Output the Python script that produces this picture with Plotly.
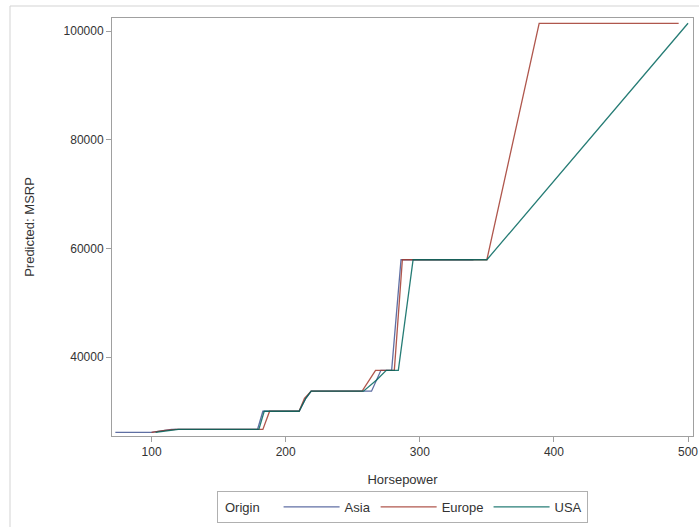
import plotly.graph_objects as go

# Data: predicted MSRP vs Horsepower, by Origin
asia_hp = [73, 100, 115, 179, 183, 210, 215, 219, 264, 271, 279, 286, 340]
asia_msrp = [26110, 26110, 26660, 26660, 30010, 30010, 32400, 33710, 33710, 37550, 37550, 57900, 57900]

europe_hp = [100, 110, 118, 183, 188, 210, 214, 219, 257, 267, 281, 287, 350, 389, 493]
europe_msrp = [26110, 26500, 26660, 26660, 30010, 30010, 32400, 33710, 33710, 37550, 37550, 57900, 57900, 101420, 101420]

usa_hp = [103, 120, 180, 184, 210, 215, 219, 258, 268, 275, 284, 295, 350, 500]
usa_msrp = [26110, 26660, 26660, 30010, 30010, 32400, 33710, 33710, 35800, 37550, 37550, 57900, 57900, 101420]

series_names = ["Asia", "Europe", "USA"]
series_colors = ["#445694", "#A23A2E", "#01665E"]
legend_title = "Origin"

fig = go.Figure()
for name, xs, ys, col in zip(series_names,
                             [asia_hp, europe_hp, usa_hp],
                             [asia_msrp, europe_msrp, usa_msrp],
                             series_colors):
    fig.add_trace(go.Scatter(x=xs, y=ys, mode="lines", name=name,
                             line=dict(color=col, width=1.3), opacity=0.85))

font_family = "Liberation Sans, Arial, sans-serif"
fig.update_layout(
    width=699, height=527,
    margin=dict(l=112, r=6, t=18, b=91, autoexpand=False),
    paper_bgcolor="white", plot_bgcolor="white",
    font=dict(family=font_family, color="#333333", size=12),
    showlegend=True,
    legend=dict(orientation="h", x=0.5, xanchor="center",
                yref="container", y=(527 - 523) / 527, yanchor="bottom",
                title=dict(text="\u00a0" * 14, font=dict(size=13, color="#333333"), side="left"),
                bordercolor="#B0B0B0", borderwidth=1,
                font=dict(size=13, color="#333333"), itemwidth=56,
                tracegroupgap=0, valign="middle"),
    xaxis=dict(range=[70.5, 503.7], tickvals=[100, 200, 300, 400, 500],
               showgrid=False, zeroline=False,
               showline=True, mirror=True, linecolor="#A0A0A0", linewidth=1,
               ticks="outside", ticklen=5, tickcolor="#A0A0A0",
               tickfont=dict(size=12, color="#333333"),
               title=dict(text="Horsepower", font=dict(size=13, color="#333333"), standoff=16)),
    yaxis=dict(range=[25459, 102393], tickvals=[40000, 60000, 80000, 100000],
               tickformat="d", showgrid=False, zeroline=False,
               showline=True, mirror=True, linecolor="#A0A0A0", linewidth=1,
               ticks="outside", ticklen=5, tickcolor="#A0A0A0",
               tickfont=dict(size=12, color="#333333"),
               title=dict(text="Predicted: MSRP", font=dict(size=13, color="#333333"), standoff=26)),
)

# Legend title, aligned with the legend entries
fig.add_annotation(text=legend_title, xref="paper", yref="paper",
                   x=(223 - 112) / 581, y=(436 - 507.5) / 418,
                   xanchor="left", yanchor="middle", showarrow=False,
                   font=dict(size=13, color="#333333"))

# Outer light border (left and top edges)
fig.add_shape(type="line", xref="paper", yref="paper",
              x0=(10 - 112) / 581, x1=(10 - 112) / 581, y0=-0.3, y1=(436 - 6) / 418,
              line=dict(color="#D3D3D3", width=1))
fig.add_shape(type="line", xref="paper", yref="paper",
              x0=(10 - 112) / 581, x1=1.05, y0=(436 - 6) / 418, y1=(436 - 6) / 418,
              line=dict(color="#D3D3D3", width=1))

fig.write_html("out.html", config={"displayModeBar": False},
               post_script="document.body.style.margin='0';document.body.style.overflow='hidden';")
